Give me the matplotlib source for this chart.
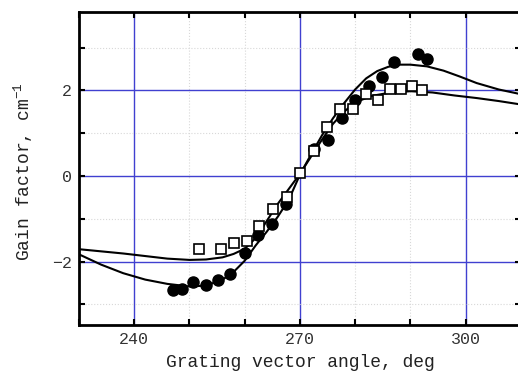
import numpy as np
import matplotlib
matplotlib.use("Agg")
import matplotlib.pyplot as plt
from matplotlib.ticker import MultipleLocator

plt.rcParams['font.family'] = ['Liberation Mono', 'DejaVu Sans']
plt.rcParams['mathtext.default'] = 'regular'

# measured points (filled circles)
circ_x = [247.0, 248.7, 250.7, 253.0, 255.1, 257.4, 260.1, 262.4, 265.0, 267.5,
          272.6, 275.1, 277.6, 280.0, 282.5, 284.8, 287.0, 291.3, 293.0]
circ_y = [-2.66, -2.63, -2.47, -2.55, -2.43, -2.30, -1.81, -1.37, -1.11, -0.66,
          0.62, 0.85, 1.36, 1.77, 2.09, 2.31, 2.67, 2.86, 2.73]

# measured points (open squares)
sq_x = [251.7, 255.8, 258.1, 260.4, 262.6, 265.1, 267.6, 270.0, 272.5, 274.9,
        277.3, 279.6, 281.9, 284.2, 286.3, 288.3, 290.3, 292.1]
sq_y = [-1.71, -1.71, -1.57, -1.52, -1.17, -0.78, -0.48, 0.07, 0.58, 1.15,
        1.57, 1.57, 1.92, 1.78, 2.02, 2.02, 2.11, 2.00]

# fitted curves
fit_a_x = [230, 234, 238, 242, 246, 250, 253, 256, 258, 260, 262, 264, 266, 268,
           270, 272, 274, 276, 278, 280, 282, 284, 286, 288, 290, 293, 296, 299,
           302, 306, 310]
fit_a_y = [-1.83, -2.07, -2.27, -2.42, -2.52, -2.58, -2.56, -2.42, -2.24, -1.98,
           -1.62, -1.30, -0.95, -0.55, 0.03, 0.50, 0.95, 1.35, 1.70, 2.02, 2.28,
           2.45, 2.55, 2.60, 2.60, 2.56, 2.46, 2.32, 2.17, 2.02, 1.91]

fit_b_x = [230, 234, 238, 242, 246, 250, 253, 256, 258, 260, 262, 264, 266, 268,
           270, 272, 274, 276, 278, 280, 283, 286, 290, 294, 298, 302, 306, 310]
fit_b_y = [-1.71, -1.76, -1.81, -1.87, -1.93, -1.96, -1.95, -1.90, -1.82, -1.70,
           -1.45, -1.05, -0.65, -0.30, 0.05, 0.45, 0.85, 1.22, 1.50, 1.72, 1.87,
           1.94, 1.98, 1.95, 1.88, 1.82, 1.75, 1.67]

fig = plt.figure(figsize=(5.18, 3.79), dpi=100)
ax = fig.add_axes([0.1525, 0.1425, 0.853, 0.827])

ax.plot(fit_a_x, fit_a_y, color='black', lw=1.5, zorder=3)
ax.plot(fit_b_x, fit_b_y, color='black', lw=1.5, zorder=3)
ax.plot(circ_x, circ_y, 'o', color='black', ms=8, zorder=4)
ax.plot(sq_x, sq_y, 's', mfc='white', mec='black', mew=1.2, ms=6.5, zorder=5)

ax.set_xlim(230, 310)
ax.set_ylim(-3.48, 3.84)

ax.xaxis.set_major_locator(MultipleLocator(30))
ax.xaxis.set_minor_locator(MultipleLocator(10))
ax.yaxis.set_major_locator(MultipleLocator(2))
ax.yaxis.set_minor_locator(MultipleLocator(1))

ax.grid(which='minor', color='#d8d8d8', ls=':', lw=0.8, zorder=0)
ax.grid(which='major', color='#4040d0', ls='-', lw=1.0, zorder=1)

ax.tick_params(which='both', direction='in', top=True, right=True,
               length=4, width=1.5, color='black')
ax.tick_params(which='major', labelsize=12, labelcolor='#333333', pad=5)

for s in ax.spines.values():
    s.set_linewidth(2)

ax.set_xlabel('Grating vector angle, deg', fontsize=13, labelpad=5, color='#222222')
ax.set_ylabel('Gain factor, cm$^{-1}$', fontsize=13, color='#222222')
ax.yaxis.set_label_coords(-0.1, 0.49)

fig.savefig('out.png', dpi=100)
